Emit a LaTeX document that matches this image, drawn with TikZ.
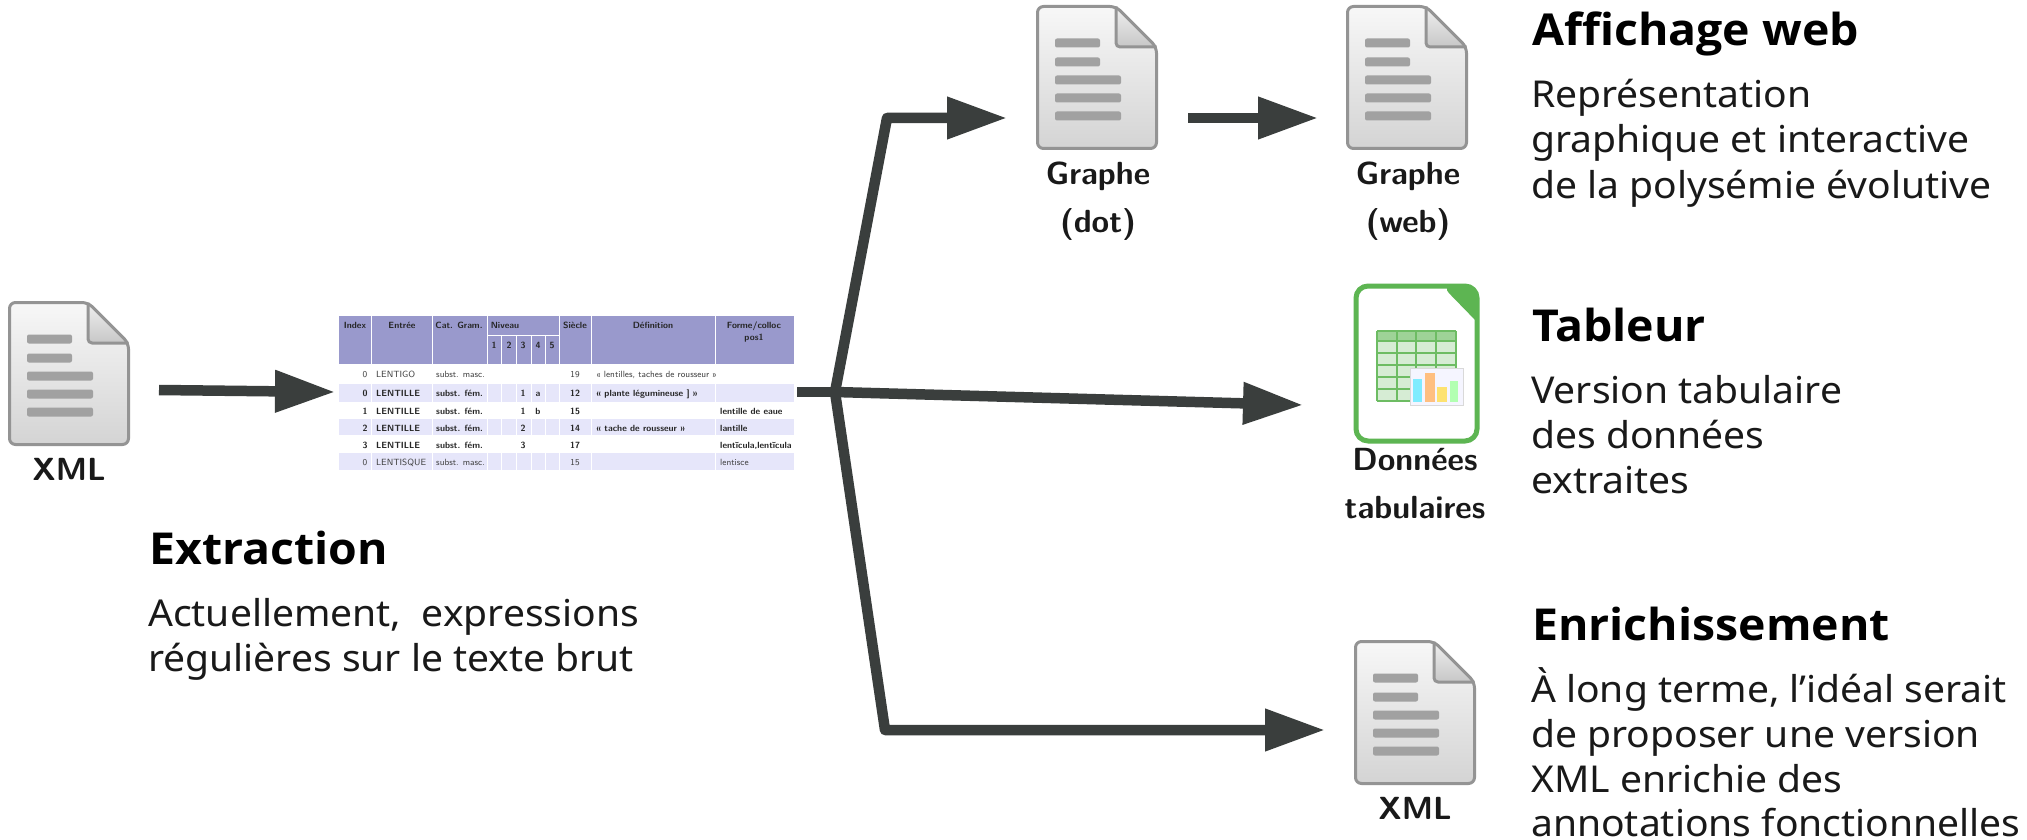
\documentclass[tikz,border=0pt]{standalone}
\usepackage{fontspec}
\newfontfamily\ub[FakeStretch=1.055]{Noto Sans}
\newfontfamily\ubb[FakeStretch=1.055]{Open Sans}
\usetikzlibrary{arrows.meta}
\definecolor{arr}{HTML}{3A3E3D}
\definecolor{thead}{HTML}{9999CC}
\definecolor{trow}{HTML}{E6E6FA}
\definecolor{sgreen}{HTML}{5DB552}
\tikzset{
  flow/.style={draw=arr,line width=10.5pt,line join=round,-{Triangle[length=60pt,width=40pt]}},
  flowplain/.style={draw=arr,line width=10.5pt,line join=round},
  title/.style={anchor=base west,inner sep=0pt,font=\ubb\bfseries\fontsize{44}{50}\selectfont,text=black},
  body/.style={anchor=base west,inner sep=0pt,font=\ub\fontsize{37}{45}\selectfont,text=black!90},
  lab/.style={anchor=base,inner sep=0pt,font=\sffamily\bfseries\fontsize{32}{36}\selectfont,text=black!90},
  cell/.style={anchor=base,inner sep=0pt,font=\sffamily\fontsize{9}{10}\selectfont,text=black!75},
  bcell/.style={cell,font=\sffamily\bfseries\fontsize{9}{10}\selectfont,text=black!85},
  cellw/.style={cell,anchor=base west},
  bcellw/.style={bcell,anchor=base west},
  cellh/.style={bcell,text=black!85},
  pics/docicon/.style={code={
    \shade[top color=white!97!black,bottom color=black!17,rounded corners=4pt]
      (1.5,1.5) -- (80,1.5) -- (120.5,42) -- (120.5,143.5) -- (1.5,143.5) -- cycle;
    \shade[top color=black!6,bottom color=black!22]
      (80,1.5) -- (120.5,42) -- (84,42) -- (80,38) -- cycle;
    \draw[draw=black!42,line width=3pt,line join=round,rounded corners=6pt]
      (1.5,1.5) -- (80,1.5) -- (120.5,42) -- (120.5,143.5) -- (1.5,143.5) -- cycle;
    \draw[draw=black!42,line width=3pt,line join=round,rounded corners=4pt]
      (80,1.5) -- (80,42) -- (120.5,42);
    \foreach \yy/\xx in {38/64,57/64,75/85,93/85,111/85}{
      \fill[black!37,rounded corners=2pt] (19,\yy-4.5) rectangle (\xx,\yy+4.5);
    }
  }}
}
\begin{document}
\begin{tikzpicture}[x=1pt,y=-1pt]
\useasboundingbox (0,0) rectangle (2027,840);
\fill[white] (0,0) rectangle (2027,840);

% icons
\pic (xmlA) at (8,301) {docicon};
\pic (dot) at (1036,5) {docicon};
\pic (web) at (1346,5) {docicon};
\pic (xmlB) at (1354,640) {docicon};

% spreadsheet icon
\fill[sgreen] (1477,322) -- (1477,296) [rounded corners=10pt] -- (1477,286) -- (1442,286) [sharp corners] -- cycle;
\draw[sgreen,line width=5pt,rounded corners=12pt] (1356,286) rectangle (1477,441);
\fill[sgreen!25] (1377,331) rectangle (1456,401);
\fill[sgreen!60] (1377,331) rectangle (1456,341);
\foreach \yy in {331,341,353,365,377,389,401} \draw[sgreen!90,line width=1.8pt] (1377,\yy) -- (1456,\yy);
\foreach \xx in {1377,1397,1416,1436,1456} \draw[sgreen!90,line width=1.8pt] (\xx,331) -- (\xx,401);
\fill[white!96!blue] (1410,368) rectangle (1463,405);
\draw[black!15,line width=1pt] (1410,368) rectangle (1463,405);
\fill[blue!15!cyan!50] (1413,379) rectangle (1422,402);
\fill[orange!50] (1425,373) rectangle (1435,402);
\fill[yellow!65!orange!55] (1437,387) rectangle (1447,402);
\fill[green!30] (1450,381) rectangle (1458,402);

% table
\fill[thead] (339,316) rectangle (794,364);
\fill[trow] (339,384) rectangle (794,402);
\fill[trow] (339,419) rectangle (794,435);
\fill[trow] (339,453) rectangle (794,470);
\foreach \xx in {371,432,487,559,591,715} \draw[white,line width=.8pt] (\xx,316) -- (\xx,470);
\foreach \xx in {501,516,531,545} \draw[white,line width=.8pt] (\xx,335) -- (\xx,364);
\foreach \xx in {501,516,531,545} \draw[white,line width=.8pt] (\xx,384) -- (\xx,402) (\xx,419) -- (\xx,435) (\xx,453) -- (\xx,470);
\draw[white,line width=.8pt] (487,335) -- (559,335);
\node[cellh] (h1) at (355,328) {Index};
\node[cellh] (h2) at (402,328) {Entrée};
\node[cellh] (h3) at (459,328) {Cat. Gram.};
\node[cellh] (h4) at (505,328) {Niveau};
\node[cellh] (h5) at (575,328) {Siècle};
\node[cellh] (h6) at (653,328) {Définition};
\node[cellh] (h7) at (754,328) {Forme/colloc};
\node[cellh] (h8) at (754,340) {pos1};
\node[cellh] (n1) at (494,348) {1};
\node[cellh] (n2) at (509,348) {2};
\node[cellh] (n3) at (523,348) {3};
\node[cellh] (n4) at (538,348) {4};
\node[cellh] (n5) at (552,348) {5};
% rows
\node[cell] (a0) at (365,377) {0};
\node[cellw] (a1) at (376,377) {LENTIGO};
\node[cellw] (a2) at (436,377) {subst. masc.};
\node[cell] (a3) at (575,377) {19};
\node[cellw] (a4) at (596,377) {« lentilles, taches de rousseur »};
\node[bcell] (b0) at (365,396) {0};
\node[bcellw] (b1) at (376,396) {LENTILLE};
\node[bcellw] (b2) at (436,396) {subst. fém.};
\node[bcell] (b3) at (523,396) {1};
\node[bcell] (b4) at (538,396) {a};
\node[bcell] (b5) at (575,396) {12};
\node[bcellw] (b6) at (596,396) {« plante légumineuse ] »};
\node[bcell] (c0) at (365,414) {1};
\node[bcellw] (c1) at (376,414) {LENTILLE};
\node[bcellw] (c2) at (436,414) {subst. fém.};
\node[bcell] (c3) at (523,414) {1};
\node[bcell] (c4) at (538,414) {b};
\node[bcell] (c5) at (575,414) {15};
\node[bcellw] (c6) at (720,414) {lentille de eaue};
\node[bcell] (d0) at (365,431) {2};
\node[bcellw] (d1) at (376,431) {LENTILLE};
\node[bcellw] (d2) at (436,431) {subst. fém.};
\node[bcell] (d3) at (523,431) {2};
\node[bcell] (d5) at (575,431) {14};
\node[bcellw] (d6) at (596,431) {« tache de rousseur »};
\node[bcellw] (d7) at (720,431) {lantille};
\node[bcell] (e0) at (365,448) {3};
\node[bcellw] (e1) at (376,448) {LENTILLE};
\node[bcellw] (e2) at (436,448) {subst. fém.};
\node[bcell] (e3) at (523,448) {3};
\node[bcell] (e5) at (575,448) {17};
\node[bcellw] (e7) at (720,448) {lentĭcula,lentĭcula};
\node[cell] (f0) at (365,465) {0};
\node[cellw] (f1) at (376,465) {LENTISQUE};
\node[cellw] (f2) at (436,465) {subst. masc.};
\node[cell] (f5) at (575,465) {15};
\node[cellw] (f7) at (720,465) {lentisce};

% connectors
\coordinate (s1) at (159,390);
\coordinate (t1) at (335,392);
\coordinate (s2) at (797,392);
\coordinate (j) at (835,392);
\coordinate (k1) at (887,118);
\coordinate (t2) at (1007,118);
\coordinate (t3) at (1303,405);
\coordinate (k2) at (885,730);
\coordinate (t4) at (1325,730);
\coordinate (s5) at (1188,118);
\coordinate (t5) at (1318,118);
\draw[flow] (s1) -- (t1);
\draw[flowplain] (s2) -- (j);
\draw[flow] (j) -- (k1) -- (t2);
\draw[flow] (j) -- (t3);
\draw[flow] (j) -- (k2) -- (t4);
\draw[flow] (s5) -- (t5);

% labels
\node[lab] (lx1) at (69,480) {XML};
\node[lab] (ld1) at (1098,185) {Graphe};
\node[lab] (ld2) at (1098,232) {(dot)};
\node[lab] (lw1) at (1408,185) {Graphe};
\node[lab] (lw2) at (1408,232) {(web)};
\node[lab] (lc1) at (1415,470) {Données};
\node[lab] (lc2) at (1415,518) {tabulaires};
\node[lab] (lx2) at (1415,819) {XML};

% texts
\node[title] (t_ex) at (149,564) {Extraction};
\node[body] (b_ex1) at (148,626) {Actuellement,\ \ expressions};
\node[body] (b_ex2) at (148,671) {régulières sur le texte brut};
\node[title] (t_af) at (1532,46) {Affichage web};
\node[body] (b_af1) at (1531,108) {Représentation};
\node[body] (b_af2) at (1531,153) {graphique et interactive};
\node[body] (b_af3) at (1531,198) {de la polysémie évolutive};
\node[title] (t_tb) at (1532,341) {Tableur};
\node[body] (b_tb1) at (1531,403) {Version tabulaire};
\node[body] (b_tb2) at (1531,448) {des données};
\node[body] (b_tb3) at (1531,493) {extraites};
\node[title] (t_en) at (1532,640) {Enrichissement};
\node[body] (b_en1) at (1531,702) {À long terme, l’idéal serait};
\node[body] (b_en2) at (1531,747) {de proposer une version};
\node[body] (b_en3) at (1531,792) {XML enrichie des};
\node[body] (b_en4) at (1531,836) {annotations fonctionnelles};
\end{tikzpicture}
\end{document}
